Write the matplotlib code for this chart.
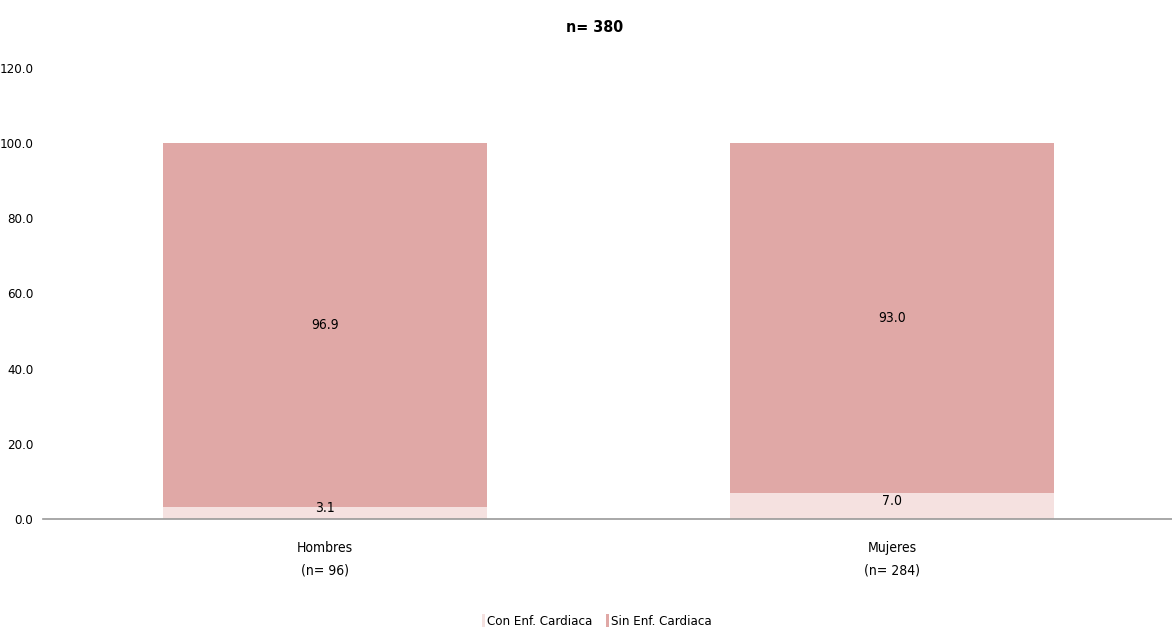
import numpy as np
import matplotlib.pyplot as plt
from matplotlib import font_manager

# the original uses a tall narrow face; take a condensed one if installed
narrow = [f for f in font_manager.fontManager.ttflist
          if ('ondensed' in f.name or 'Narrow' in f.name or 'condensed' in str(f.stretch))
          and f.style == 'normal']
if narrow:
    plt.rcParams['font.family'] = [narrow[0].name, 'DejaVu Sans']
    plt.rcParams['font.stretch'] = narrow[0].stretch
else:
    plt.rcParams['font.family'] = ['Open Sans', 'DejaVu Sans']

categories = ['Hombres\n(n= 96)', 'Mujeres\n(n= 284)']
con_enf = [3.1, 7.0]
sin_enf = [96.9, 93.0]
series_names = ['Con Enf. Cardiaca', 'Sin Enf. Cardiaca']
colors = ['#f5e1e0', '#e0a8a6']

fig = plt.figure(figsize=(11.72, 6.3), dpi=100)
ax = fig.add_axes([43 / 1172, 1 - 519 / 630, (1172 - 43) / 1172, (519 - 68) / 630])

x = np.arange(len(categories))
w = 0.571
ax.bar(x, con_enf, w, color=colors[0], label=series_names[0])
ax.bar(x, sin_enf, w, bottom=con_enf, color=colors[1], label=series_names[1])

for i in range(len(x)):
    ax.text(x[i], con_enf[i] / 2 + 1.4, f'{con_enf[i]:.1f}', ha='center', va='center', fontsize=10)
    ax.text(x[i], con_enf[i] + sin_enf[i] / 2, f'{sin_enf[i]:.1f}', ha='center', va='center', fontsize=10)

ax.set_xlim(-0.497, 1.494)
ax.set_ylim(0, 120)
ax.set_yticks(np.arange(0, 121, 20))
ax.set_yticklabels([f'{v:.1f}' for v in np.arange(0, 121, 20)], fontsize=9.5)
ax.set_xticks(x)
ax.set_xticklabels(categories, fontsize=10, linespacing=1.75)
ax.tick_params(axis='x', length=0, pad=16)
ax.tick_params(axis='y', length=0, pad=7)
for s in ['top', 'right', 'left']:
    ax.spines[s].set_visible(False)
ax.spines['bottom'].set_color('#999999')
ax.spines['bottom'].set_linewidth(1.2)

fig.text(595 / 1172, 1 - 27 / 630, 'n= 380', ha='center', va='center', fontsize=11.5, fontweight='bold')
fig.legend(loc='center', bbox_to_anchor=(597 / 1172, 1 - 621 / 630), ncol=2, frameon=False,
           fontsize=9.5, handlelength=0.25, handleheight=1.1, handletextpad=0.15, columnspacing=1.0)

fig.savefig('out.png', dpi=100)
